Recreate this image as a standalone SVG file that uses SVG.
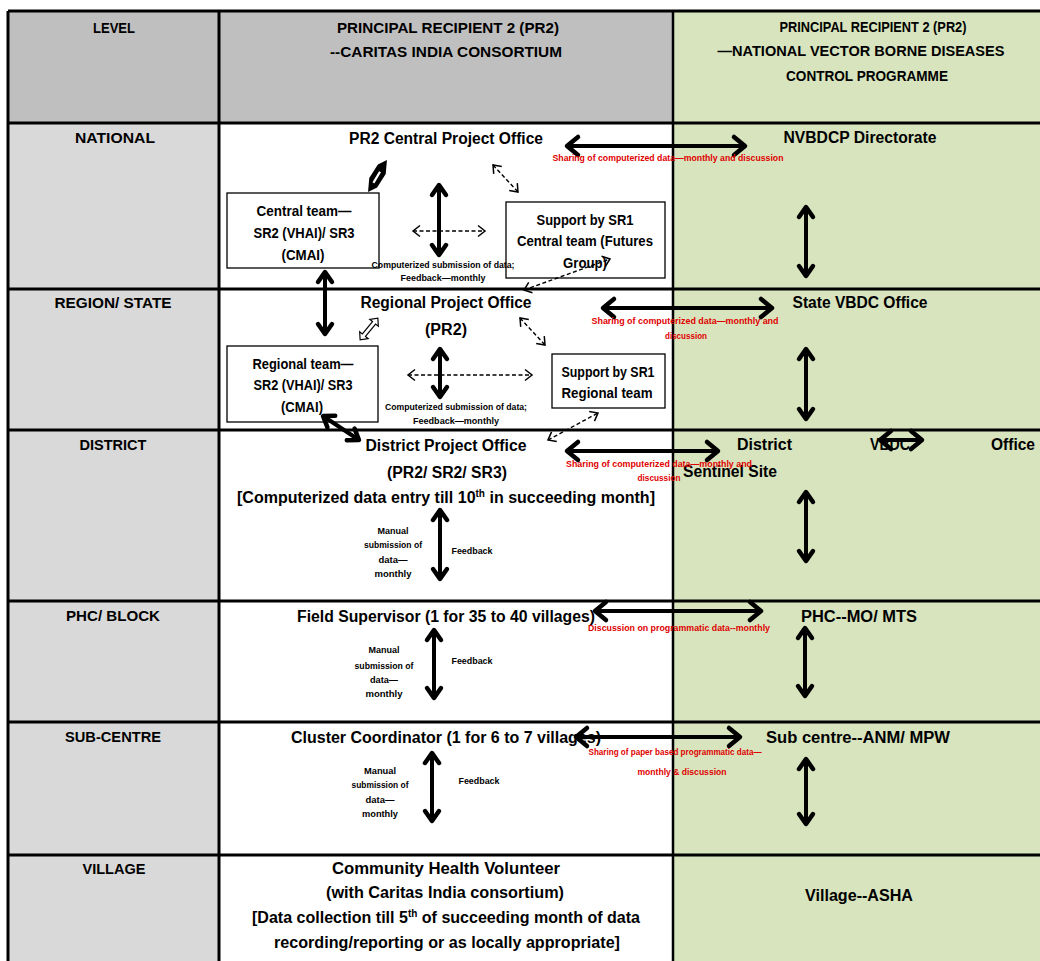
<svg xmlns="http://www.w3.org/2000/svg" width="1040" height="961" viewBox="0 0 1040 961">
<defs>
<style>
text{font-family:"Liberation Sans",Arial,sans-serif;font-weight:bold;fill:#000}
.h{font-size:15px}
.hr{font-size:14px}
.lv{font-size:15px}
.m{font-size:16px}
.b{font-size:14px}
.s{font-size:9px}
.r{font-size:8.5px;fill:#e00000}
.box{fill:#fff;stroke:#000;stroke-width:1.3}
.grid{stroke:#000;stroke-width:3;fill:none}
.ta{stroke:#000;stroke-width:4;fill:none;marker-start:url(#ah);marker-end:url(#ah)}
.tv{stroke:#000;stroke-width:4;fill:none;marker-start:url(#av);marker-end:url(#av)}
.da{stroke:#000;stroke-width:1.4;fill:none;stroke-dasharray:4 2.5;marker-start:url(#ad);marker-end:url(#ad)}
</style>
<marker id="ah" markerUnits="userSpaceOnUse" viewBox="-16 -12 20 24" refX="0" refY="0" markerWidth="20" markerHeight="24" orient="auto-start-reverse" overflow="visible">
<path d="M-11,-9 L0,0 L-11,9" fill="none" stroke="#000" stroke-width="4.5" stroke-linejoin="round" stroke-linecap="round"/>
</marker>
<marker id="av" markerUnits="userSpaceOnUse" viewBox="-14 -10 18 20" refX="0" refY="0" markerWidth="18" markerHeight="20" orient="auto-start-reverse" overflow="visible">
<path d="M-10,-7 L0,0 L-10,7" fill="none" stroke="#000" stroke-width="4.5" stroke-linejoin="round" stroke-linecap="round"/>
</marker>
<marker id="ad" markerUnits="userSpaceOnUse" viewBox="-10 -8 12 16" refX="0" refY="0" markerWidth="12" markerHeight="16" orient="auto-start-reverse" overflow="visible">
<path d="M-7,-5.5 L0,0 L-7,5.5" fill="none" stroke="#000" stroke-width="1.5" stroke-linejoin="miter"/>
</marker>
</defs>

<g id="background">
<rect x="0" y="0" width="1040" height="961" fill="#fff"/>
<rect x="8" y="11" width="211" height="112" fill="#bfbfbf"/>
<rect x="8" y="123" width="211" height="838" fill="#d9d9d9"/>
<rect x="219" y="11" width="454" height="112" fill="#bfbfbf"/>
<rect x="673" y="11" width="367" height="950" fill="#d7e4bd"/>
</g>

<g id="grid">
<path class="grid" d="M8,11 H1040 M8,11 V961 M8,123 H1040 M8,289 H1040 M8,430 H1040 M8,601 H1040 M8,722 H1040 M8,855 H1040"/>
<path class="grid" d="M219,11 V961"/>
<path class="grid" style="stroke-width:2.5" d="M673,11 V961"/>
</g>

<g id="header">
<text class="h" x="114" y="33" text-anchor="middle" textLength="42" lengthAdjust="spacingAndGlyphs">LEVEL</text>
<text class="h" x="448" y="33" text-anchor="middle" textLength="222" lengthAdjust="spacingAndGlyphs">PRINCIPAL RECIPIENT 2 (PR2)</text>
<text class="h" x="446" y="57" text-anchor="middle" textLength="232" lengthAdjust="spacingAndGlyphs">--CARITAS INDIA CONSORTIUM</text>
<text class="hr" x="873" y="32" text-anchor="middle" textLength="187" lengthAdjust="spacingAndGlyphs">PRINCIPAL RECIPIENT 2 (PR2)</text>
<text class="hr" x="861" y="56" text-anchor="middle" textLength="287" lengthAdjust="spacingAndGlyphs">—NATIONAL VECTOR BORNE DISEASES</text>
<text class="hr" x="867" y="81" text-anchor="middle" textLength="162" lengthAdjust="spacingAndGlyphs">CONTROL PROGRAMME</text>
</g>

<g id="levels">
<text class="lv" x="115" y="143" text-anchor="middle" textLength="80" lengthAdjust="spacingAndGlyphs">NATIONAL</text>
<text class="lv" x="113" y="308" text-anchor="middle" textLength="117" lengthAdjust="spacingAndGlyphs">REGION/ STATE</text>
<text class="lv" x="113" y="450" text-anchor="middle" textLength="67" lengthAdjust="spacingAndGlyphs">DISTRICT</text>
<text class="lv" x="113" y="621" text-anchor="middle" textLength="94" lengthAdjust="spacingAndGlyphs">PHC/ BLOCK</text>
<text class="lv" x="113" y="742" text-anchor="middle" textLength="96" lengthAdjust="spacingAndGlyphs">SUB-CENTRE</text>
<text class="lv" x="114" y="874" text-anchor="middle" textLength="63" lengthAdjust="spacingAndGlyphs">VILLAGE</text>
</g>

<g id="pr2-central-office">
<text class="m" x="446" y="144" text-anchor="middle" textLength="194" lengthAdjust="spacingAndGlyphs">PR2 Central Project Office</text>
</g>
<g id="central-team">
<rect class="box" x="227" y="193" width="152" height="75"/>
<text class="b" x="304" y="216" text-anchor="middle" textLength="95" lengthAdjust="spacingAndGlyphs">Central team—</text>
<text class="b" x="304" y="238" text-anchor="middle" textLength="101" lengthAdjust="spacingAndGlyphs">SR2 (VHAI)/ SR3</text>
<text class="b" x="303" y="260" text-anchor="middle" textLength="43" lengthAdjust="spacingAndGlyphs">(CMAI)</text>
</g>
<g id="sr1-central">
<rect class="box" x="506" y="202" width="159" height="76"/>
<text class="b" x="585" y="225" text-anchor="middle" textLength="97" lengthAdjust="spacingAndGlyphs">Support by  SR1</text>
<text class="b" x="585" y="246" text-anchor="middle" textLength="136" lengthAdjust="spacingAndGlyphs">Central team (Futures</text>
<text class="b" x="585" y="268" text-anchor="middle" textLength="44" lengthAdjust="spacingAndGlyphs">Group)</text>
</g>
<g id="nvbdcp-directorate">
<text class="m" x="860" y="143" text-anchor="middle" textLength="153" lengthAdjust="spacingAndGlyphs">NVBDCP Directorate</text>
</g>

<g id="regional-office">
<text class="m" x="446" y="308" text-anchor="middle" textLength="171" lengthAdjust="spacingAndGlyphs">Regional Project Office</text>
<text class="m" x="446" y="335" text-anchor="middle" textLength="42" lengthAdjust="spacingAndGlyphs">(PR2)</text>
</g>
<g id="regional-team">
<rect class="box" x="227" y="346" width="151" height="76"/>
<text class="b" x="303" y="369" text-anchor="middle" textLength="101" lengthAdjust="spacingAndGlyphs">Regional team—</text>
<text class="b" x="303" y="390" text-anchor="middle" textLength="99" lengthAdjust="spacingAndGlyphs">SR2 (VHAI)/ SR3</text>
<text class="b" x="302" y="412" text-anchor="middle" textLength="42" lengthAdjust="spacingAndGlyphs">(CMAI)</text>
</g>
<g id="sr1-regional">
<rect class="box" x="552" y="354" width="113" height="54"/>
<text class="b" x="608" y="377" text-anchor="middle" textLength="93" lengthAdjust="spacingAndGlyphs">Support by SR1</text>
<text class="b" x="607" y="398" text-anchor="middle" textLength="91" lengthAdjust="spacingAndGlyphs">Regional team</text>
</g>
<g id="state-vbdc">
<text class="m" x="860" y="308" text-anchor="middle" textLength="135" lengthAdjust="spacingAndGlyphs">State VBDC Office</text>
</g>

<g id="district-office">
<text class="m" x="446" y="451" text-anchor="middle" textLength="161" lengthAdjust="spacingAndGlyphs">District Project Office</text>
<text class="m" x="447" y="478" text-anchor="middle" textLength="120" lengthAdjust="spacingAndGlyphs">(PR2/ SR2/ SR3)</text>
<text class="m" x="446" y="503" text-anchor="middle" textLength="418" lengthAdjust="spacingAndGlyphs">[Computerized data entry till 10<tspan font-size="10" dy="-6">th</tspan><tspan dy="6"> in succeeding month]</tspan></text>
</g>
<g id="district-vbdc">
<text class="m" x="737" y="450" textLength="55" lengthAdjust="spacingAndGlyphs">District</text>
<text class="m" x="870" y="450" textLength="40" lengthAdjust="spacingAndGlyphs">VBDC</text>
<text class="m" x="991" y="450" textLength="44" lengthAdjust="spacingAndGlyphs">Office</text>
<text class="m" x="730" y="477" text-anchor="middle" textLength="94" lengthAdjust="spacingAndGlyphs">Sentinel Site</text>
</g>

<g id="field-supervisor">
<text class="m" x="446" y="622" text-anchor="middle" textLength="298" lengthAdjust="spacingAndGlyphs">Field Supervisor (1 for 35 to 40 villages)</text>
</g>
<g id="phc">
<text class="m" x="859" y="622" text-anchor="middle" textLength="116" lengthAdjust="spacingAndGlyphs">PHC--MO/ MTS</text>
</g>

<g id="cluster-coordinator">
<text class="m" x="446" y="743" text-anchor="middle" textLength="310" lengthAdjust="spacingAndGlyphs">Cluster Coordinator (1 for  6 to 7 villages)</text>
</g>
<g id="sub-centre">
<text class="m" x="858" y="743" text-anchor="middle" textLength="184" lengthAdjust="spacingAndGlyphs">Sub centre--ANM/ MPW</text>
</g>

<g id="chv">
<text class="m" x="446" y="874" text-anchor="middle" textLength="228" lengthAdjust="spacingAndGlyphs">Community Health Volunteer</text>
<text class="m" x="445" y="898" text-anchor="middle" textLength="238" lengthAdjust="spacingAndGlyphs">(with Caritas India consortium)</text>
<text class="m" x="446" y="923" text-anchor="middle" textLength="388" lengthAdjust="spacingAndGlyphs">[Data collection till 5<tspan font-size="10" dy="-6">th</tspan><tspan dy="6"> of succeeding month of data</tspan></text>
<text class="m" x="447" y="948" text-anchor="middle" textLength="346" lengthAdjust="spacingAndGlyphs">recording/reporting or as  locally appropriate]</text>
</g>
<g id="asha">
<text class="m" x="859" y="901" text-anchor="middle" textLength="108" lengthAdjust="spacingAndGlyphs">Village--ASHA</text>
</g>

<g id="connectors">
<!-- dashed -->
<path class="da" d="M413,231 H485"/>
<path class="da" d="M493,165 L518,192"/>
<path class="da" d="M524,290 L610,259"/>
<path class="da" d="M408,375 H532"/>
<path class="da" d="M520,318 L545,345"/>
<path class="da" d="M548,440 L598,413"/>
<!-- thick -->
<path class="ta" d="M567,146 H745"/>
<path class="tv" d="M806,207 V276"/>
<path class="tv" d="M439,185 V255"/>
<path class="tv" d="M325,272 V334"/>
<path class="ta" d="M603,308 H772"/>
<path class="tv" d="M806,349 V419"/>
<path class="tv" d="M440,349 V397"/>
<path class="tv" d="M323,416 L359,440"/>
<path class="ta" d="M567,451 H718"/>
<path class="ta" d="M880,440 H922"/>
<path class="tv" d="M806,492 V561"/>
<path class="tv" d="M440,510 V579"/>
<path class="ta" d="M595,611 H761"/>
<path class="tv" d="M805,628 V696"/>
<path class="tv" d="M434,630 V698"/>
<path class="ta" d="M576,737 H740"/>
<path class="tv" d="M806,759 V824"/>
<path class="tv" d="M432,753 V821"/>
<!-- hollow small double arrow -->
<polygon transform="translate(369,329) rotate(-50.7)" points="-14,0 -8,-5.5 -8,-2 8,-2 8,-5.5 14,0 8,5.5 8,2 -8,2 -8,5.5" fill="#fff" stroke="#000" stroke-width="1.2"/>
<!-- filled leaf-like double arrow -->
<g transform="translate(377.5,176) rotate(-59.3)">
<path d="M-18.5,0 L-6,-6 L10,-5.5 L18.5,0 L6,6 L-10,5.5 Z" fill="#000"/>
<path d="M-8,0 L5,0" stroke="#fff" stroke-width="2.2"/>
</g>
</g>

<g id="labels">
<text class="s" x="443" y="268" text-anchor="middle" textLength="143" lengthAdjust="spacingAndGlyphs">Computerized submission of data;</text>
<text class="s" x="443" y="281" text-anchor="middle" textLength="85" lengthAdjust="spacingAndGlyphs">Feedback—monthly</text>
<text class="s" x="456" y="410" text-anchor="middle" textLength="142" lengthAdjust="spacingAndGlyphs">Computerized submission of data;</text>
<text class="s" x="456" y="424" text-anchor="middle" textLength="86" lengthAdjust="spacingAndGlyphs">Feedback—monthly</text>

<text class="s" x="393" y="534" text-anchor="middle" textLength="31" lengthAdjust="spacingAndGlyphs">Manual</text>
<text class="s" x="393" y="548" text-anchor="middle" textLength="58" lengthAdjust="spacingAndGlyphs">submission of</text>
<text class="s" x="393" y="563" text-anchor="middle" textLength="29" lengthAdjust="spacingAndGlyphs">data—</text>
<text class="s" x="393" y="577" text-anchor="middle" textLength="37" lengthAdjust="spacingAndGlyphs">monthly</text>
<text class="s" x="472" y="554" text-anchor="middle" textLength="41" lengthAdjust="spacingAndGlyphs">Feedback</text>

<text class="s" x="384" y="653" text-anchor="middle" textLength="31" lengthAdjust="spacingAndGlyphs">Manual</text>
<text class="s" x="384" y="669" text-anchor="middle" textLength="59" lengthAdjust="spacingAndGlyphs">submission of</text>
<text class="s" x="384" y="683" text-anchor="middle" textLength="28" lengthAdjust="spacingAndGlyphs">data—</text>
<text class="s" x="384" y="697" text-anchor="middle" textLength="37" lengthAdjust="spacingAndGlyphs">monthly</text>
<text class="s" x="472" y="664" text-anchor="middle" textLength="41" lengthAdjust="spacingAndGlyphs">Feedback</text>

<text class="s" x="380" y="774" text-anchor="middle" textLength="32" lengthAdjust="spacingAndGlyphs">Manual</text>
<text class="s" x="380" y="788" text-anchor="middle" textLength="57" lengthAdjust="spacingAndGlyphs">submission of</text>
<text class="s" x="380" y="803" text-anchor="middle" textLength="29" lengthAdjust="spacingAndGlyphs">data—</text>
<text class="s" x="380" y="817" text-anchor="middle" textLength="36" lengthAdjust="spacingAndGlyphs">monthly</text>
<text class="s" x="479" y="784" text-anchor="middle" textLength="41" lengthAdjust="spacingAndGlyphs">Feedback</text>

<text class="r" x="668" y="161" text-anchor="middle" textLength="231" lengthAdjust="spacingAndGlyphs">Sharing of computerized data—monthly and discussion</text>
<text class="r" x="685" y="324" text-anchor="middle" textLength="187" lengthAdjust="spacingAndGlyphs">Sharing of computerized data—monthly and</text>
<text class="r" x="686" y="339" text-anchor="middle" textLength="42" lengthAdjust="spacingAndGlyphs">discussion</text>
<text class="r" x="659" y="467" text-anchor="middle" textLength="186" lengthAdjust="spacingAndGlyphs">Sharing of computerized data—monthly and</text>
<text class="r" x="659" y="481" text-anchor="middle" textLength="43" lengthAdjust="spacingAndGlyphs">discussion</text>
<text class="r" x="679" y="631" text-anchor="middle" textLength="182" lengthAdjust="spacingAndGlyphs">Discussion on programmatic data--monthly</text>
<text class="r" x="675" y="755" text-anchor="middle" textLength="173" lengthAdjust="spacingAndGlyphs">Sharing of paper based programmatic data—</text>
<text class="r" x="682" y="775" text-anchor="middle" textLength="89" lengthAdjust="spacingAndGlyphs">monthly &amp; discussion</text>
</g>
</svg>
